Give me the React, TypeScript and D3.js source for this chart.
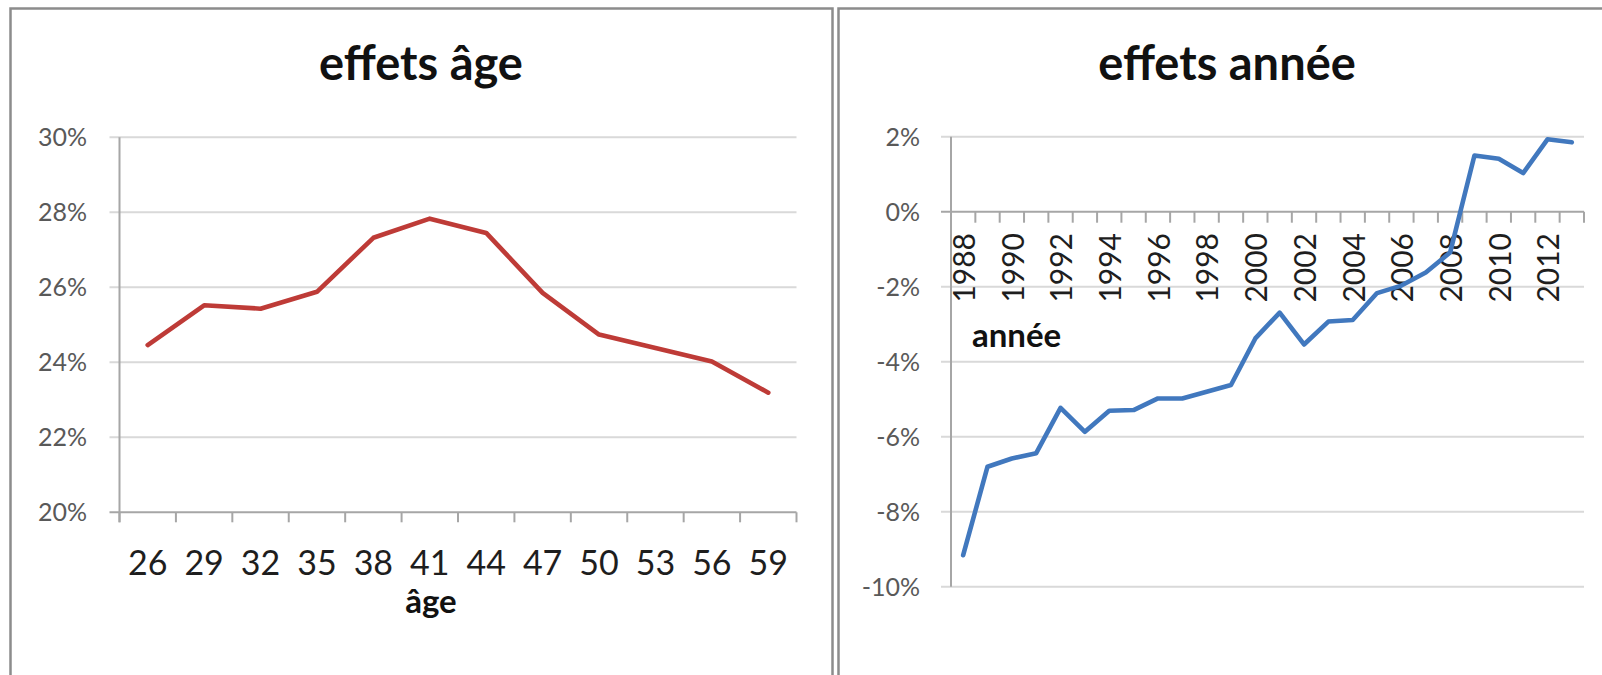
import React from 'react';
import * as d3 from 'd3';

// ---- data ----
const ages: number[] = [26, 29, 32, 35, 38, 41, 44, 47, 50, 53, 56, 59];
const ageEffects: number[] = [24.46, 25.52, 25.43, 25.88, 27.32, 27.83, 27.45, 25.85, 24.74, 24.38, 24.02, 23.19];
const ageTicks: number[] = [20, 22, 24, 26, 28, 30];

const years: number[] = [1988, 1989, 1990, 1991, 1992, 1993, 1994, 1995, 1996, 1997, 1998, 1999, 2000,
  2001, 2002, 2003, 2004, 2005, 2006, 2007, 2008, 2009, 2010, 2011, 2012, 2013];
const yearEffects: number[] = [-9.16, -6.8, -6.58, -6.44, -5.23, -5.87, -5.31, -5.29, -4.98, -4.98, -4.8, -4.62, -3.38,
  -2.69, -3.54, -2.93, -2.89, -2.17, -1.97, -1.62, -1.09, 1.5, 1.41, 1.03, 1.93, 1.85];
const yearTicks: number[] = [-10, -8, -6, -4, -2, 0, 2];
const yearLabels: number[] = [1988, 1990, 1992, 1994, 1996, 1998, 2000, 2002, 2004, 2006, 2008, 2010, 2012];

const FONT = "Lato, 'Open Sans', sans-serif";
const GRID = '#d9d9d9';
const AXIS = '#a6a6a6';
const LABEL_GRAY = '#595959';
const TEXT_DARK = '#1e1e1e';

export default function App() {
  // left chart scales
  const xAge = d3.scaleBand<number>().domain(ages).range([119.5, 796.5]);
  const yAge = d3.scaleLinear().domain([20, 30]).range([512.3, 137.3]);
  const ageLine = d3.line<number>()
    .x((_, i) => (xAge(ages[i]) as number) + xAge.bandwidth() / 2)
    .y((d) => yAge(d));

  // right chart scales
  const xYear = d3.scaleBand<number>().domain(years).range([951, 1584]);
  const yYear = d3.scaleLinear().domain([-10, 2]).range([586.7, 136.7]);
  const yearLine = d3.line<number>()
    .x((_, i) => (xYear(years[i]) as number) + xYear.bandwidth() / 2)
    .y((d) => yYear(d));

  const ageBoundaries = ages.map((a) => xAge(a) as number).concat([xAge.range()[1]]);
  const yearBoundaries = years.map((y) => xYear(y) as number).concat([xYear.range()[1]]);

  const [lx0, lx1] = xAge.range();
  const [rx0, rx1] = xYear.range();

  return (
    <svg width={1602} height={675} style={{ position: 'absolute', left: 0, top: 0, background: '#fff' }}
      fontFamily={FONT}>
      <rect x={0} y={0} width={1602} height={675} fill="#fff" />
      {/* panel borders */}
      <rect x={10.5} y={8.5} width={822} height={700} fill="none" stroke="#8c8c8c" strokeWidth={2.5} />
      <rect x={838.5} y={8.5} width={800} height={700} fill="none" stroke="#8c8c8c" strokeWidth={2.5} />

      {/* ---------- LEFT: effets âge ---------- */}
      <text x={421} y={80} textAnchor="middle" fontSize={47} fontWeight="bold" fill="#111">effets âge</text>
      {ageTicks.map((t) => (
        <g key={'ag' + t}>
          <line x1={lx0 - 10} x2={lx1} y1={yAge(t)} y2={yAge(t)} stroke={t === 20 ? AXIS : GRID} strokeWidth={2} />
          <text x={87} y={yAge(t)} dy="0.36em" textAnchor="end" fontSize={25} fill={LABEL_GRAY}>{t}%</text>
        </g>
      ))}
      <line x1={lx0} x2={lx0} y1={yAge(30)} y2={yAge(20) + 10} stroke={AXIS} strokeWidth={2} />
      {ageBoundaries.map((b, i) => (
        <line key={'at' + i} x1={b} x2={b} y1={yAge(20)} y2={yAge(20) + 10} stroke={AXIS} strokeWidth={2} />
      ))}
      {ages.map((a) => (
        <text key={'al' + a} x={(xAge(a) as number) + xAge.bandwidth() / 2} y={575} textAnchor="middle"
          fontSize={34} fill={TEXT_DARK}>{a}</text>
      ))}
      <text x={431} y={613} textAnchor="middle" fontSize={33} fontWeight="bold" fill="#111">âge</text>
      <path d={ageLine(ageEffects) || ''} fill="none" stroke="#be3b37" strokeWidth={4.6}
        strokeLinejoin="round" strokeLinecap="round" />

      {/* ---------- RIGHT: effets année ---------- */}
      <text x={1227} y={80} textAnchor="middle" fontSize={47} fontWeight="bold" fill="#111">effets année</text>
      {yearTicks.map((t) => (
        <g key={'yg' + t}>
          <line x1={rx0 - 10} x2={rx1} y1={yYear(t)} y2={yYear(t)} stroke={t === 0 ? AXIS : GRID} strokeWidth={2} />
          <text x={920} y={yYear(t)} dy="0.36em" textAnchor="end" fontSize={25} fill={LABEL_GRAY}>{t}%</text>
        </g>
      ))}
      <line x1={rx0} x2={rx0} y1={yYear(2)} y2={yYear(-10)} stroke={AXIS} strokeWidth={2} />
      {yearBoundaries.map((b, i) => (
        <line key={'yt' + i} x1={b} x2={b} y1={yYear(0)} y2={yYear(0) + 11} stroke={AXIS} strokeWidth={2} />
      ))}
      {yearLabels.map((y) => {
        const cx = (xYear(y) as number) + xYear.bandwidth() / 2 + 1;
        return (
          <text key={'yl' + y} transform={`translate(${cx},233) rotate(-90)`} dy="0.36em" textAnchor="end"
            fontSize={30} fill={TEXT_DARK}>{y}</text>
        );
      })}
      <text x={972} y={347} textAnchor="start" fontSize={33} fontWeight="bold" fill="#111">année</text>
      <path d={yearLine(yearEffects) || ''} fill="none" stroke="#4178be" strokeWidth={4.6}
        strokeLinejoin="round" strokeLinecap="round" />
    </svg>
  );
}
